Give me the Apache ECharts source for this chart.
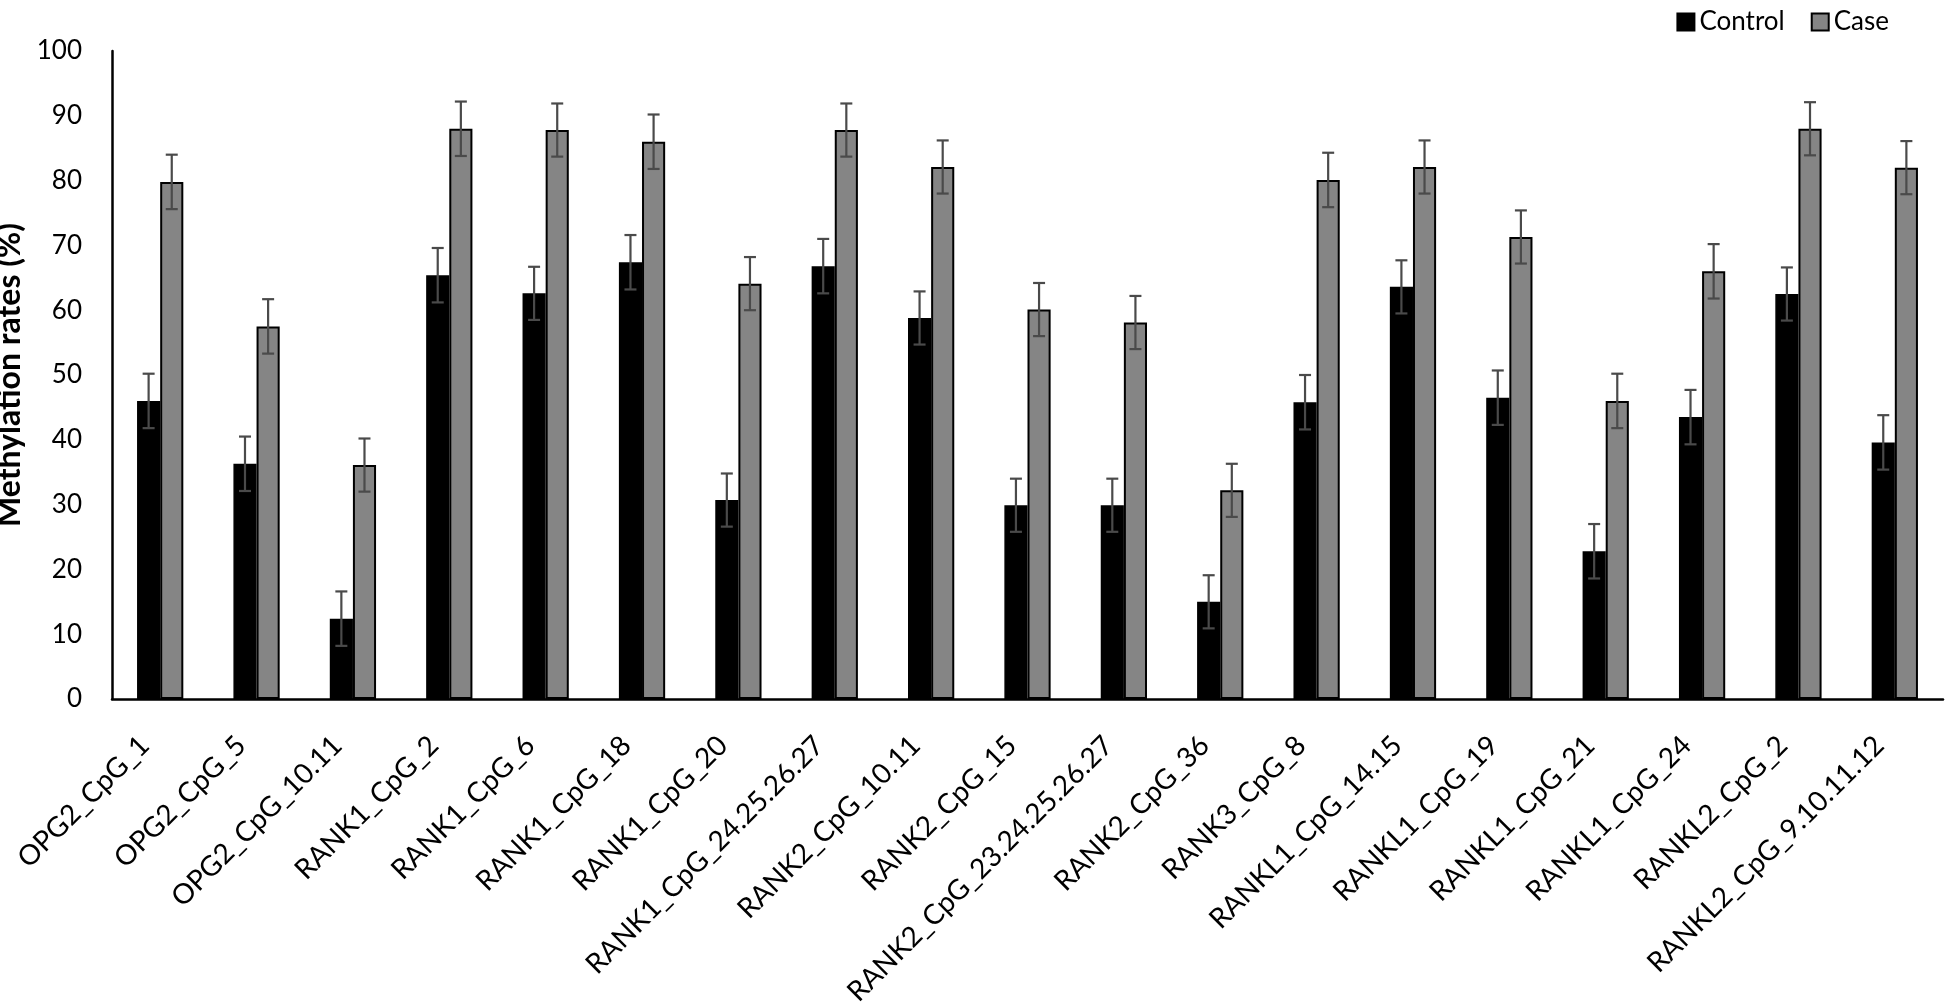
<!DOCTYPE html>
<html>
<head>
<meta charset="utf-8">
<script src="https://cdn.jsdelivr.net/npm/echarts@6/dist/echarts.min.js"></script>
<style>
html,body{margin:0;padding:0;background:#fff;}
#chart{width:1946px;height:1005px;}
</style>
</head>
<body>
<div id="chart"></div>
<script>
const categories = [
  'OPG2_CpG_1','OPG2_CpG_5','OPG2_CpG_10.11','RANK1_CpG_2','RANK1_CpG_6','RANK1_CpG_18',
  'RANK1_CpG_20','RANK1_CpG_24.25.26.27','RANK2_CpG_10.11','RANK2_CpG_15','RANK2_CpG_23.24.25.26.27',
  'RANK2_CpG_36','RANK3_CpG_8','RANKL1_CpG_14.15','RANKL1_CpG_19','RANKL1_CpG_21','RANKL1_CpG_24',
  'RANKL2_CpG_2','RANKL2_CpG_9.10.11.12'
];
const controlValues = [46.0, 36.3, 12.4, 65.4, 62.6, 67.4, 30.7, 66.8, 58.8, 29.9, 29.9, 15.0, 45.8, 63.6, 46.5, 22.8, 43.5, 62.5, 39.6];
const caseValues    = [79.8, 57.5, 36.1, 88.0, 87.8, 86.0, 64.1, 87.8, 82.1, 60.1, 58.1, 32.2, 80.1, 82.1, 71.3, 46.0, 66.0, 88.0, 82.0];
const controlErrors = [4.2, 4.2, 4.2, 4.2, 4.1, 4.2, 4.1, 4.2, 4.1, 4.1, 4.1, 4.1, 4.2, 4.1, 4.2, 4.2, 4.2, 4.1, 4.2];
const caseErrors    = [4.2, 4.2, 4.1, 4.2, 4.1, 4.2, 4.1, 4.1, 4.1, 4.1, 4.1, 4.1, 4.2, 4.1, 4.1, 4.2, 4.2, 4.1, 4.1];
const yTicks = { min: 0, max: 100, interval: 10 };
const seriesNames = ['Control', 'Case'];

const FONT = 'Lato';
const barFrac = 0.24; // each bar's share of the category band (gap 52%)

function errData(vals, errs) {
  return vals.map((v, i) => [i, v - errs[i], v + errs[i]]);
}
function errRenderer(side) {
  return function (params, api) {
    const i = api.value(0);
    const lo = api.coord([i, api.value(1)]);
    const hi = api.coord([i, api.value(2)]);
    const band = api.size([1, 0])[0];
    const bw = band * barFrac;
    const x = lo[0] + side * bw / 2;
    const cap = 6;
    const style = { stroke: '#4a4a4a', lineWidth: 2.2 };
    return {
      type: 'group',
      children: [
        { type: 'line', shape: { x1: x, y1: lo[1], x2: x, y2: hi[1] }, style: style },
        { type: 'line', shape: { x1: x - cap, y1: lo[1], x2: x + cap, y2: lo[1] }, style: style },
        { type: 'line', shape: { x1: x - cap, y1: hi[1], x2: x + cap, y2: hi[1] }, style: style }
      ]
    };
  };
}

const chart = echarts.init(document.getElementById('chart'), null, { renderer: 'canvas' });
chart.setOption({
  animation: false,
  backgroundColor: '#ffffff',
  textStyle: { fontFamily: FONT, color: '#000' },
  legend: {
    data: seriesNames,
    right: 52,
    top: 4,
    itemWidth: 17,
    itemHeight: 17,
    itemGap: 26,
    icon: 'rect',
    textStyle: { fontFamily: FONT, fontSize: 26, color: '#000' }
  },
  grid: { left: 112, right: 3, top: 51, bottom: 306, containLabel: false, outerBoundsMode: 'none' },
  xAxis: {
    type: 'category',
    data: categories,
    axisLine: { show: true, lineStyle: { color: '#000', width: 2.5 } },
    axisTick: { show: false },
    axisLabel: {
      interval: 0,
      rotate: 45,
      margin: 46,
      align: 'right',
      verticalAlign: 'bottom',
      padding: [0, 8, 0, 0],
      fontFamily: FONT,
      fontSize: 28,
      color: '#000'
    },
    splitLine: { show: false }
  },
  yAxis: {
    type: 'value',
    min: yTicks.min,
    max: yTicks.max,
    interval: yTicks.interval,
    name: 'Methylation rates (%)',
    nameLocation: 'middle',
    nameRotate: 90,
    nameGap: 72,
    nameTextStyle: { fontFamily: FONT, fontSize: 32, fontWeight: 'bold', color: '#000' },
    axisLine: { show: true, lineStyle: { color: '#000', width: 2.5 } },
    axisTick: { show: false },
    axisLabel: { fontFamily: FONT, fontSize: 26, color: '#000', margin: 30 },
    splitLine: { show: false }
  },
  series: [
    {
      name: 'Control',
      type: 'bar',
      data: controlValues,
      barGap: '0%',
      barCategoryGap: '52%',
      itemStyle: { color: '#000000', borderColor: '#000000', borderWidth: 1.5 }
    },
    {
      name: 'Case',
      type: 'bar',
      data: caseValues,
      barGap: '0%',
      barCategoryGap: '52%',
      itemStyle: { color: '#858585', borderColor: '#000000', borderWidth: 2 }
    },
    {
      name: 'ControlErr',
      type: 'custom',
      renderItem: errRenderer(-1),
      data: errData(controlValues, controlErrors),
      encode: { x: 0, y: [1, 2] },
      z: 10,
      silent: true
    },
    {
      name: 'CaseErr',
      type: 'custom',
      renderItem: errRenderer(1),
      data: errData(caseValues, caseErrors),
      encode: { x: 0, y: [1, 2] },
      z: 10,
      silent: true
    }
  ]
});
</script>
</body>
</html>
